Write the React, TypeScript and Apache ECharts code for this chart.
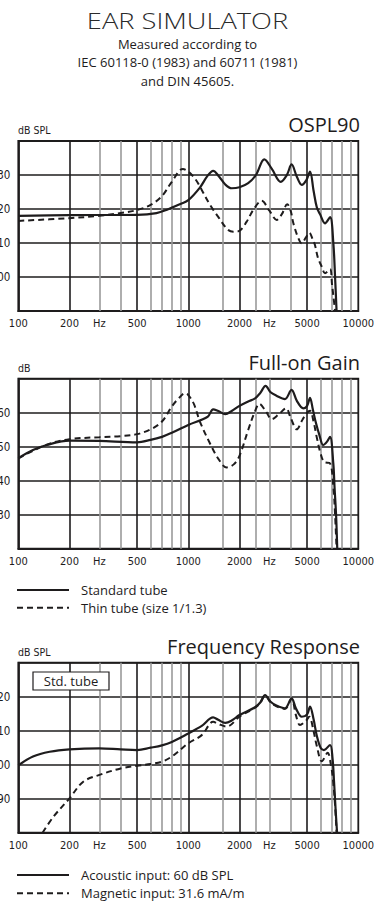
import React, { useEffect, useRef } from 'react';
import * as echarts from 'echarts';

// ---------- axis ticks / grid ----------
const tickFreqs = [100, 200, 300, 500, 1000, 2000, 3000, 5000, 10000];
const tickLabels = ['100', '200', 'Hz', '500', '1000', '2000', 'Hz', '5000', '10000'];
const majorGridFreqs = [200, 500, 1000, 2000, 5000];
const minorGridFreqs = [300, 400, 600, 700, 800, 900, 1600, 2500, 3000, 4000, 6000, 7000, 8000, 9000];

// ---------- OSPL90 ----------
const osplStdFreq = [100, 200, 500, 650, 750, 900, 1000, 1170, 1300, 1400, 1520, 1650, 1800, 2000, 2250, 2500, 2800, 3100, 3500, 3800, 4050, 4350, 4650, 4950, 5200, 5450, 5700, 5950, 6370, 6820, 7130, 7300, 7450];
const osplStdVal = [118.0, 118.2, 118.3, 118.8, 119.8, 121.5, 122.6, 126.3, 129.8, 131.2, 129.5, 127.2, 126.1, 126.4, 127.6, 130.0, 134.6, 131.8, 128.0, 130.0, 133.1, 129.5, 127.1, 128.5, 131.0, 125.5, 120.5, 118.5, 115.8, 117.6, 110.0, 100.0, 90.0];
const osplThinFreq = [100, 200, 300, 400, 500, 600, 700, 800, 930, 1000, 1100, 1200, 1350, 1500, 1700, 1840, 2000, 2200, 2410, 2700, 3000, 3310, 3550, 3820, 4000, 4150, 4440, 4640, 4900, 5150, 5400, 5560, 5800, 6100, 6370, 6820, 7000, 7150, 7300];
const osplThinVal = [116.5, 117.3, 118.0, 118.8, 119.7, 121.2, 123.8, 128.0, 131.8, 131.0, 128.8, 125.6, 121.0, 117.7, 114.0, 113.3, 113.6, 116.2, 119.7, 122.4, 119.5, 116.8, 118.5, 121.4, 119.5, 115.8, 111.4, 109.9, 111.5, 113.0, 111.0, 109.4, 105.5, 103.0, 101.1, 102.3, 98.0, 94.0, 90.0];

// ---------- Full-on Gain ----------
const gainStdFreq = [100, 122, 147, 200, 300, 500, 600, 700, 800, 1000, 1300, 1400, 1500, 1650, 1800, 2000, 2250, 2470, 2650, 2850, 3050, 3300, 3700, 4050, 4350, 4750, 5000, 5200, 5400, 5600, 5900, 6220, 6550, 6820, 7130, 7250, 7400, 7520];
const gainStdVal = [46.6, 49.0, 50.5, 51.8, 51.7, 51.3, 52.0, 52.9, 54.1, 56.4, 58.8, 61.0, 60.5, 59.6, 60.5, 62.0, 63.3, 64.2, 65.8, 67.9, 66.0, 65.0, 64.0, 66.7, 63.5, 61.3, 62.0, 64.4, 61.0, 57.5, 53.5, 50.5, 51.5, 52.9, 45.0, 38.0, 30.0, 20.0];
const gainThinFreq = [100, 147, 200, 300, 400, 500, 600, 700, 800, 880, 957, 1000, 1080, 1170, 1340, 1500, 1680, 1850, 2000, 2250, 2450, 2620, 2850, 3100, 3400, 3760, 4000, 4345, 4700, 5000, 5200, 5450, 5690, 6000, 6300, 6820, 7130, 7300, 7450];
const gainThinVal = [46.6, 50.6, 52.2, 52.8, 53.1, 53.7, 55.1, 57.4, 61.8, 64.3, 65.7, 65.2, 62.5, 57.4, 51.0, 46.5, 43.9, 44.8, 47.3, 54.9, 60.0, 62.6, 60.5, 58.1, 59.5, 61.3, 58.5, 55.1, 58.0, 60.0, 60.6, 57.5, 52.9, 48.0, 45.5, 45.1, 38.2, 30.0, 20.0];

// ---------- Frequency Response ----------
const respAcFreq = [100, 122, 153, 200, 300, 400, 500, 600, 700, 800, 1000, 1200, 1400, 1500, 1650, 1800, 2000, 2470, 2650, 2830, 3050, 3300, 3700, 4050, 4300, 4650, 5000, 5200, 5450, 5700, 6000, 6280, 6820, 7050, 7200, 7350, 7500];
const respAcVal = [99.8, 102.4, 103.8, 104.5, 104.8, 104.5, 104.3, 105.0, 105.7, 106.7, 109.2, 111.4, 113.9, 113.2, 112.3, 113.0, 114.6, 116.9, 118.3, 120.5, 118.5, 117.4, 116.6, 119.5, 116.5, 114.1, 114.8, 117.1, 113.5, 108.5, 105.0, 104.3, 105.8, 102.0, 95.0, 87.0, 80.0];
const respMagFreq = [139, 161, 200, 241, 300, 400, 500, 600, 700, 800, 1000, 1200, 1400, 1500, 1680, 2000, 2470, 2650, 2830, 3050, 3300, 3700, 4050, 4300, 4540, 4900, 5150, 5450, 5700, 6100, 6600, 6900, 7100, 7300, 7450];
const respMagVal = [80.0, 84.7, 90.1, 95.0, 97.0, 98.9, 99.7, 100.2, 100.9, 102.4, 106.3, 108.7, 112.6, 112.0, 111.2, 114.1, 116.8, 118.2, 120.3, 118.3, 117.2, 116.4, 119.3, 114.5, 111.7, 112.8, 114.1, 110.0, 105.5, 101.0, 103.5, 100.0, 95.5, 88.0, 80.0];

// ---------- texts ----------
const headerTitle = 'EAR SIMULATOR';
const headerLines = ['Measured according to', 'IEC 60118-0 (1983) and 60711 (1981)', 'and DIN 45605.'];
const chartTitles = ['OSPL90', 'Full-on Gain', 'Frequency Response'];
const unitLabels = ['dB SPL', 'dB', 'dB SPL'];
const gainLegend = ['Standard tube', 'Thin tube (size 1/1.3)'];
const respLegend = ['Acoustic input: 60 dB SPL', 'Magnetic input: 31.6 mA/m'];
const yRanges = [[90, 140], [20, 70], [80, 130]];

const INK = '#1e1c1d';
const NARROW = '"Liberation Sans Narrow", "Arial Narrow", "DejaVu Sans Condensed", sans-serif';
const SANS = '"Open Sans", "Noto Sans", sans-serif';

const zip = (f: number[], v: number[]) => f.map((x, i) => [x, v[i]]);

const gridTops = [141, 378.7, 662.7];
const GRID_LEFT = 18.3;
const GRID_W = 340;
const GRID_H = 170;

export default function App() {
  const ref = useRef<HTMLDivElement>(null);

  useEffect(() => {
    if (!ref.current) return;
    const chart = echarts.init(ref.current, null, { renderer: 'svg' });

    const fmtX = (v: number) => {
      const i = tickFreqs.findIndex((t) => Math.abs(Math.log10(t) - Math.log10(v)) < 0.004);
      return i >= 0 ? tickLabels[i] : '';
    };

    const grids = gridTops.map((top) => ({
      left: GRID_LEFT,
      top,
      width: GRID_W,
      height: GRID_H,
      show: true,
      borderColor: INK,
      borderWidth: 1.8,
      containLabel: false,
      outerBoundsMode: 'none',
    }));

    const xAxes = gridTops.map((_, i) => ({
      type: 'log',
      logBase: 10,
      gridIndex: i,
      min: 100,
      max: 10000,
      axisLine: { show: true, lineStyle: { color: INK, width: 1.8 } },
      axisTick: { show: false },
      splitLine: { show: false },
      minorTick: { show: false },
      axisLabel: {
        show: true,
        customValues: tickFreqs,
        formatter: fmtX,
        margin: 7,
        fontSize: 11,
        color: INK,
        fontFamily: NARROW,
        showMinLabel: true,
        showMaxLabel: true,
        hideOverlap: false,
      },
    }));

    const yAxes = yRanges.map(([mn, mx], i) => ({
      type: 'value',
      gridIndex: i,
      min: mn,
      max: mx,
      interval: 10,
      axisLine: { show: true, lineStyle: { color: INK, width: 1.8 } },
      axisTick: { show: false },
      splitLine: { show: true, lineStyle: { color: INK, width: 1.5 } },
      axisLabel: {
        margin: 8,
        fontSize: 11.5,
        color: INK,
        fontFamily: NARROW,
        showMinLabel: false,
        showMaxLabel: false,
      },
    }));

    const gridLineSeries = gridTops.map((_, i) => ({
      type: 'line',
      name: 'grid' + i,
      xAxisIndex: i,
      yAxisIndex: i,
      data: [],
      silent: true,
      markLine: {
        silent: true,
        symbol: ['none', 'none'],
        z: 1,
        label: { show: false },
        emphasis: { disabled: true },
        data: [
          ...minorGridFreqs.map((f) => ({ xAxis: f, lineStyle: { color: '#9a9a9a', width: 1.6, type: 'solid' } })),
          ...majorGridFreqs.map((f) => ({ xAxis: f, lineStyle: { color: INK, width: 1.6, type: 'solid' } })),
        ],
      },
    }));

    const curve = (name: string, data: number[][], idx: number, dashed: boolean) => ({
      type: 'line',
      name,
      xAxisIndex: idx,
      yAxisIndex: idx,
      data,
      smooth: 0.35,
      symbol: 'none',
      z: 4,
      silent: true,
      lineStyle: dashed
        ? { color: INK, width: 2, type: [6, 4] }
        : { color: INK, width: 2.2, type: 'solid' },
    });

    const series = [
      ...gridLineSeries,
      curve(gainLegend[0] + ' (OSPL90)', zip(osplStdFreq, osplStdVal), 0, false),
      curve(gainLegend[1] + ' (OSPL90)', zip(osplThinFreq, osplThinVal), 0, true),
      curve(gainLegend[0], zip(gainStdFreq, gainStdVal), 1, false),
      curve(gainLegend[1], zip(gainThinFreq, gainThinVal), 1, true),
      curve(respLegend[0], zip(respAcFreq, respAcVal), 2, false),
      curve(respLegend[1], zip(respMagFreq, respMagVal), 2, true),
    ];

    const text = (x: number, y: number, t: string, size: number, align: string, extra: any = {}) => ({
      type: 'text',
      x,
      y,
      silent: true,
      style: {
        text: t,
        fontSize: size,
        fontFamily: extra.fontFamily || SANS,
        fill: INK,
        textAlign: align,
        textVerticalAlign: 'middle',
      },
    });

    const legendBlock = (labels: string[], y0: number, y1: number) => [
      { type: 'line', silent: true, shape: { x1: 17, y1: y0, x2: 69, y2: y0 }, style: { stroke: INK, lineWidth: 2.2 } },
      { type: 'line', silent: true, shape: { x1: 17, y1: y1, x2: 69, y2: y1 }, style: { stroke: INK, lineWidth: 2, lineDash: [6, 4] } },
      text(81, y0, labels[0], 13, 'left'),
      text(81, y1, labels[1], 13, 'left'),
    ];

    const graphic: any[] = [
      {
        type: 'text',
        x: 187.5,
        y: 21,
        scaleX: 1.24,
        silent: true,
        style: { text: headerTitle, fontSize: 22, fontFamily: SANS, fill: '#2a2a2a', textAlign: 'center', textVerticalAlign: 'middle', fontWeight: 300 },
      },
      text(187.5, 43.5, headerLines[0], 13, 'center'),
      text(187.5, 62, headerLines[1], 13, 'center'),
      text(187.5, 80.5, headerLines[2], 13, 'center'),
      text(360, 124, chartTitles[0], 20, 'right'),
      text(360, 362, chartTitles[1], 20, 'right'),
      text(360, 646, chartTitles[2], 20, 'right'),
      text(18, 129.5, unitLabels[0], 10.5, 'left', { fontFamily: NARROW }),
      text(18, 367.5, unitLabels[1], 10.5, 'left', { fontFamily: NARROW }),
      text(18, 652, unitLabels[2], 10.5, 'left', { fontFamily: NARROW }),
      {
        type: 'rect',
        silent: true,
        shape: { x: 33, y: 672, width: 76, height: 18 },
        style: { fill: '#fff', stroke: INK, lineWidth: 1.2 },
        z: 10,
      },
      { ...text(71, 681, 'Std. tube', 13, 'center'), z: 11 },
      ...legendBlock(gainLegend, 590, 607.7),
      ...legendBlock(respLegend, 875, 893.3),
    ];

    chart.setOption({
      animation: false,
      backgroundColor: '#fff',
      grid: grids,
      xAxis: xAxes,
      yAxis: yAxes,
      series,
      graphic,
    });

    return () => chart.dispose();
  }, []);

  return <div ref={ref} style={{ position: 'absolute', left: 0, top: 0, width: 375, height: 905 }} />;
}
